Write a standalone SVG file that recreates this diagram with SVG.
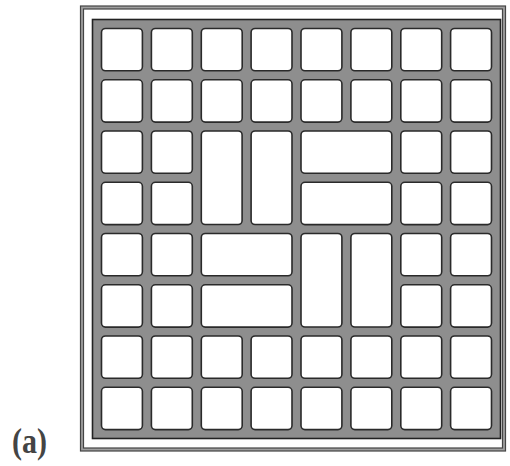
<svg xmlns="http://www.w3.org/2000/svg" width="510" height="466" viewBox="0 0 510 466">
<style>
.c{fill:#fff;stroke:#2a2a2a;stroke-width:1.6}
</style>
<rect x="0" y="0" width="510" height="466" fill="#fff"/>
<rect id="frame" x="80.5" y="6" width="425" height="445" fill="#a0a0a0" stroke="#444" stroke-width="1.2"/>
<rect x="83.5" y="9" width="419" height="439" fill="#fff" stroke="#444" stroke-width="1.2"/>
<rect id="grid" x="92.5" y="19.5" width="408" height="419" fill="#8e8e8e" stroke="#222" stroke-width="1.6"/>
<g id="cells">
<g id="row0">
<rect class="c" x="101.5" y="28.5" width="40.9" height="42.3" rx="4"/>
<rect class="c" x="151.4" y="28.5" width="40.9" height="42.3" rx="4"/>
<rect class="c" x="201.3" y="28.5" width="40.9" height="42.3" rx="4"/>
<rect class="c" x="251.1" y="28.5" width="40.9" height="42.3" rx="4"/>
<rect class="c" x="301.0" y="28.5" width="40.9" height="42.3" rx="4"/>
<rect class="c" x="350.9" y="28.5" width="40.9" height="42.3" rx="4"/>
<rect class="c" x="400.8" y="28.5" width="40.9" height="42.3" rx="4"/>
<rect class="c" x="450.6" y="28.5" width="40.9" height="42.3" rx="4"/>
</g>
<g id="row1">
<rect class="c" x="101.5" y="79.8" width="40.9" height="42.3" rx="4"/>
<rect class="c" x="151.4" y="79.8" width="40.9" height="42.3" rx="4"/>
<rect class="c" x="201.3" y="79.8" width="40.9" height="42.3" rx="4"/>
<rect class="c" x="251.1" y="79.8" width="40.9" height="42.3" rx="4"/>
<rect class="c" x="301.0" y="79.8" width="40.9" height="42.3" rx="4"/>
<rect class="c" x="350.9" y="79.8" width="40.9" height="42.3" rx="4"/>
<rect class="c" x="400.8" y="79.8" width="40.9" height="42.3" rx="4"/>
<rect class="c" x="450.6" y="79.8" width="40.9" height="42.3" rx="4"/>
</g>
<g id="row2">
<rect class="c" x="101.5" y="131.0" width="40.9" height="42.3" rx="4"/>
<rect class="c" x="151.4" y="131.0" width="40.9" height="42.3" rx="4"/>
<rect class="c" x="201.3" y="131.0" width="40.8" height="93.5" rx="4"/>
<rect class="c" x="251.1" y="131.0" width="40.9" height="93.5" rx="4"/>
<rect class="c" x="301.0" y="131.0" width="90.8" height="42.3" rx="4"/>
<rect class="c" x="400.8" y="131.0" width="40.9" height="42.3" rx="4"/>
<rect class="c" x="450.6" y="131.0" width="40.9" height="42.3" rx="4"/>
</g>
<g id="row3">
<rect class="c" x="101.5" y="182.3" width="40.9" height="42.3" rx="4"/>
<rect class="c" x="151.4" y="182.3" width="40.9" height="42.3" rx="4"/>
<rect class="c" x="301.0" y="182.3" width="90.8" height="42.3" rx="4"/>
<rect class="c" x="400.8" y="182.3" width="40.9" height="42.3" rx="4"/>
<rect class="c" x="450.6" y="182.3" width="40.9" height="42.3" rx="4"/>
</g>
<g id="row4">
<rect class="c" x="101.5" y="233.5" width="40.9" height="42.3" rx="4"/>
<rect class="c" x="151.4" y="233.5" width="40.9" height="42.3" rx="4"/>
<rect class="c" x="201.3" y="233.5" width="90.7" height="42.3" rx="4"/>
<rect class="c" x="301.0" y="233.5" width="40.9" height="93.5" rx="4"/>
<rect class="c" x="350.9" y="233.5" width="40.9" height="93.5" rx="4"/>
<rect class="c" x="400.8" y="233.5" width="40.9" height="42.3" rx="4"/>
<rect class="c" x="450.6" y="233.5" width="40.9" height="42.3" rx="4"/>
</g>
<g id="row5">
<rect class="c" x="101.5" y="284.8" width="40.9" height="42.3" rx="4"/>
<rect class="c" x="151.4" y="284.8" width="40.9" height="42.3" rx="4"/>
<rect class="c" x="201.3" y="284.8" width="90.7" height="42.3" rx="4"/>
<rect class="c" x="400.8" y="284.8" width="40.9" height="42.3" rx="4"/>
<rect class="c" x="450.6" y="284.8" width="40.9" height="42.3" rx="4"/>
</g>
<g id="row6">
<rect class="c" x="101.5" y="336.0" width="40.9" height="42.3" rx="4"/>
<rect class="c" x="151.4" y="336.0" width="40.9" height="42.3" rx="4"/>
<rect class="c" x="201.3" y="336.0" width="40.9" height="42.3" rx="4"/>
<rect class="c" x="251.1" y="336.0" width="40.9" height="42.3" rx="4"/>
<rect class="c" x="301.0" y="336.0" width="40.9" height="42.3" rx="4"/>
<rect class="c" x="350.9" y="336.0" width="40.9" height="42.3" rx="4"/>
<rect class="c" x="400.8" y="336.0" width="40.9" height="42.3" rx="4"/>
<rect class="c" x="450.6" y="336.0" width="40.9" height="42.3" rx="4"/>
</g>
<g id="row7">
<rect class="c" x="101.5" y="387.3" width="40.9" height="42.3" rx="4"/>
<rect class="c" x="151.4" y="387.3" width="40.9" height="42.3" rx="4"/>
<rect class="c" x="201.3" y="387.3" width="40.9" height="42.3" rx="4"/>
<rect class="c" x="251.1" y="387.3" width="40.9" height="42.3" rx="4"/>
<rect class="c" x="301.0" y="387.3" width="40.9" height="42.3" rx="4"/>
<rect class="c" x="350.9" y="387.3" width="40.9" height="42.3" rx="4"/>
<rect class="c" x="400.8" y="387.3" width="40.9" height="42.3" rx="4"/>
<rect class="c" x="450.6" y="387.3" width="40.9" height="42.3" rx="4"/>
</g>
</g>
<text id="label" x="12" y="453" font-family="'Liberation Serif', serif" font-weight="bold" font-size="36" fill="#444" textLength="35" lengthAdjust="spacingAndGlyphs">(a)</text>
</svg>
